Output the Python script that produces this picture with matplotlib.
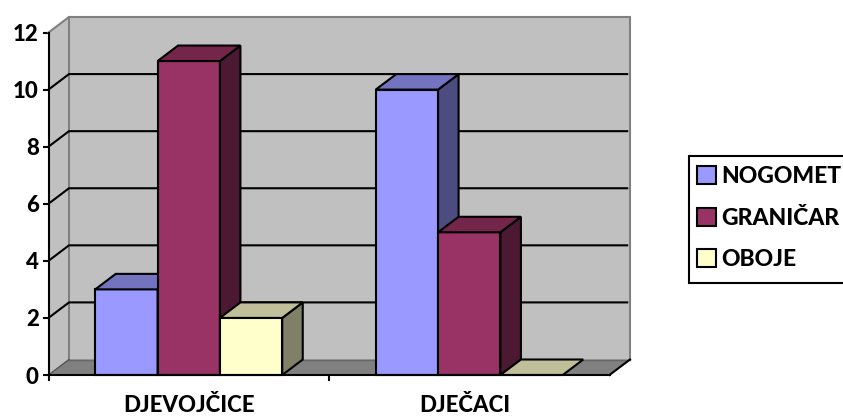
import matplotlib
matplotlib.use("Agg")
import matplotlib.pyplot as plt
from matplotlib.patches import Patch, Rectangle

categories = ["DJEVOJČICE", "DJEČACI"]
series_names = ["NOGOMET", "GRANIČAR", "OBOJE"]
nogomet = [3, 10]
granicar = [11, 5]
oboje = [2, 0]
y_ticks = [0, 2, 4, 6, 8, 10, 12]

front_colors = ["#9999FF", "#993366", "#FFFFCC"]
top_colors = ["#7373BF", "#732649", "#BFBF99"]
side_colors = ["#4C4C80", "#4C1933", "#808066"]

W, H = 843, 417
LEFT, RIGHT, BOTTOM, TOP = 48.5, 609.5, 375, 32.5
BAR_WIDTH = 1 / 4.5
DX = 20.5 / ((RIGHT - LEFT) / 2)
DY = 15.5 / ((BOTTOM - TOP) / 12)
LINE = 1.5
FONT = 16


def draw_walls(ax):
    """
    Draw side wall, back wall and floor of the 3D box.
    """
    ymax = y_ticks[-1]
    ax.fill([0, DX, DX, 0], [0, DY, ymax + DY, ymax], fc="#C0C0C0", ec="none", zorder=1, clip_on=False)
    ax.fill([DX, 2 + DX, 2 + DX, DX], [DY, DY, ymax + DY, ymax + DY], fc="#C0C0C0", ec="none", zorder=1, clip_on=False)
    ax.fill([0, 2, 2 + DX, DX], [0, 0, DY, DY], fc="#808080", ec="none", zorder=1, clip_on=False)
    ax.plot([0, DX, 2 + DX, 2 + DX], [ymax, ymax + DY, ymax + DY, DY],
            color="#808080", lw=LINE, zorder=2, clip_on=False, solid_joinstyle="miter")
    ax.plot([DX, DX], [DY, ymax + DY], color="#808080", lw=LINE, zorder=2, clip_on=False)
    ax.plot([DX, 2 + DX], [DY, DY], color="#666666", lw=1, zorder=2, clip_on=False)
    ax.plot([0, DX], [0, DY], color="#555555", lw=1, zorder=2, clip_on=False)
    ax.plot([2, 2 + DX], [0, DY], color="black", lw=LINE, zorder=2, clip_on=False)
    for tick in y_ticks[1:-1]:
        ax.plot([0, DX, 2 + DX - 0.01], [tick, tick + DY, tick + DY], color="black", lw=LINE, zorder=2, clip_on=False)


def draw_bar(ax, x, value, index, zorder):
    """
    Draw one bar as three polygons: side, top, front.
    """
    x1 = x + BAR_WIDTH
    edge = dict(ec="black", lw=LINE, joinstyle="miter", zorder=zorder, clip_on=False)
    if value > 0:
        ax.fill([x, x1, x1, x], [0, 0, value, value], fc=front_colors[index], **edge)
        ax.fill([x1, x1 + DX, x1 + DX, x1], [0, DY, value + DY, value], fc=side_colors[index], **edge)
    ax.fill([x, x1, x1 + DX, x + DX], [value, value, value + DY, value + DY], fc=top_colors[index], **edge)


plt.rcParams["font.family"] = ["Lato", "DejaVu Sans"]

fig = plt.figure(figsize=(W / 100, H / 100), dpi=100)
ax = fig.add_axes([LEFT / W, 1 - BOTTOM / H, (RIGHT - LEFT) / W, (BOTTOM - TOP) / H])
ax.set_xlim(0, 2)
ax.set_ylim(y_ticks[0], y_ticks[-1])
ax.patch.set_visible(False)

draw_walls(ax)

values = [nogomet, granicar, oboje]
for g in range(len(categories)):
    start = g + 0.5 - 1.5 * BAR_WIDTH
    for s in range(len(series_names)):
        draw_bar(ax, start + s * BAR_WIDTH, values[s][g], s, 5 + g * 3 + s)

for side in ["top", "right"]:
    ax.spines[side].set_visible(False)
for side in ["left", "bottom"]:
    ax.spines[side].set_linewidth(LINE)
    ax.spines[side].set_zorder(20)

ax.set_yticks(y_ticks)
ax.tick_params(axis="y", length=4, width=LINE, pad=3)
for label in ax.get_yticklabels():
    label.set_fontsize(FONT)
    label.set_fontweight("black")
ax.set_xticks([0, 1])
ax.set_xticklabels(["", ""])
ax.tick_params(axis="x", which="major", length=4, width=LINE)
ax.set_xticks([0.5, 1.485], labels=categories, minor=True, fontsize=FONT, fontweight="black")
ax.tick_params(axis="x", which="minor", length=0, pad=14.5)

# legend frame runs past the right edge, like in the original
fig.add_artist(Rectangle((689 / W, 1 - 283 / H), 200 / W, 127.5 / H, transform=fig.transFigure,
                         fc="white", ec="black", lw=LINE, joinstyle="miter"))
handles = [Patch(fc=c, ec="black", lw=LINE) for c in front_colors]
legend = fig.legend(handles, series_names, loc="upper left", bbox_to_anchor=(697 / W, 1 - 166 / H),
                    bbox_transform=fig.transFigure, frameon=False, borderaxespad=0, borderpad=0,
                    prop={"family": ["Lato", "DejaVu Sans"], "size": 16.5, "weight": "black"},
                    handlelength=0.82, handleheight=0.82, handletextpad=0.25, labelspacing=0.9)

fig.savefig("out.png", dpi=100)
